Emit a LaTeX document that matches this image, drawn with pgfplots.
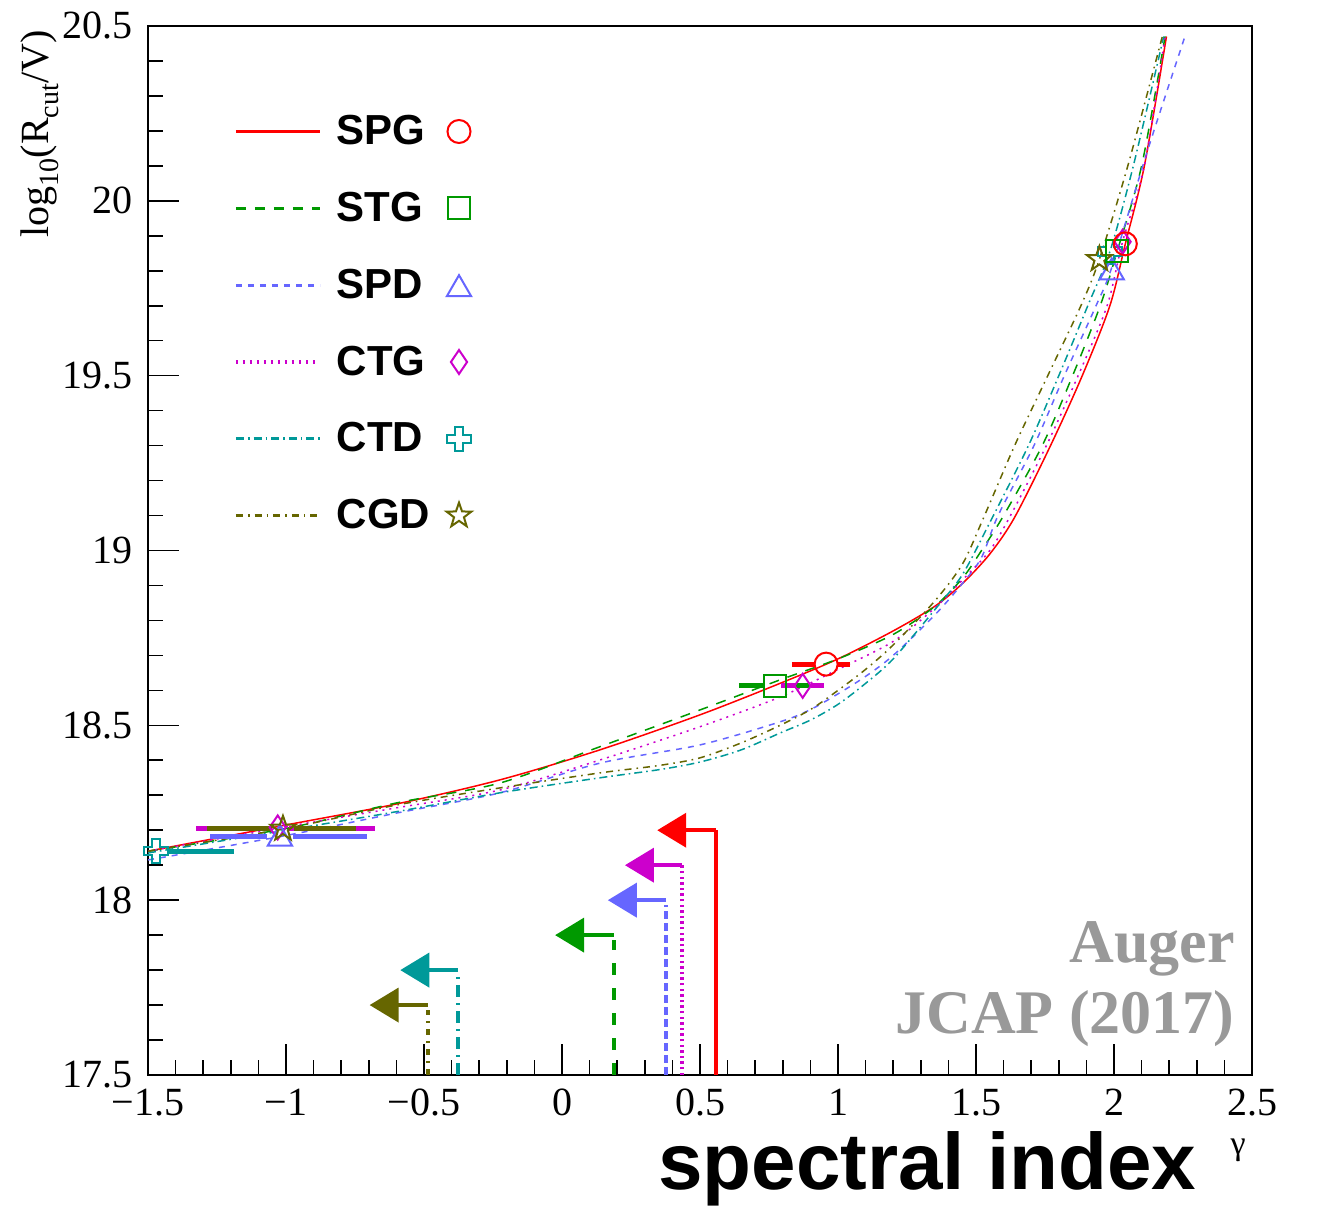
\documentclass[border=0pt]{standalone}
\usepackage{fontspec}
\setmainfont{Liberation Serif}
\newfontfamily\hel{Liberation Sans}
\usepackage{pgfplots}
\pgfplotsset{compat=1.18}
\usetikzlibrary{arrows.meta}

\definecolor{cSPG}{RGB}{255,0,0}
\definecolor{cSTG}{RGB}{0,153,0}
\definecolor{cSPD}{RGB}{102,102,255}
\definecolor{cCTG}{RGB}{204,0,204}
\definecolor{cCTD}{RGB}{0,153,153}
\definecolor{cCGD}{RGB}{102,102,0}

\pgfdeclareplotmark{ocross}{%
  \pgfpathmoveto{\pgfpoint{-0.35\pgfplotmarksize}{\pgfplotmarksize}}%
  \pgfpathlineto{\pgfpoint{0.35\pgfplotmarksize}{\pgfplotmarksize}}%
  \pgfpathlineto{\pgfpoint{0.35\pgfplotmarksize}{0.35\pgfplotmarksize}}%
  \pgfpathlineto{\pgfpoint{\pgfplotmarksize}{0.35\pgfplotmarksize}}%
  \pgfpathlineto{\pgfpoint{\pgfplotmarksize}{-0.35\pgfplotmarksize}}%
  \pgfpathlineto{\pgfpoint{0.35\pgfplotmarksize}{-0.35\pgfplotmarksize}}%
  \pgfpathlineto{\pgfpoint{0.35\pgfplotmarksize}{-\pgfplotmarksize}}%
  \pgfpathlineto{\pgfpoint{-0.35\pgfplotmarksize}{-\pgfplotmarksize}}%
  \pgfpathlineto{\pgfpoint{-0.35\pgfplotmarksize}{-0.35\pgfplotmarksize}}%
  \pgfpathlineto{\pgfpoint{-\pgfplotmarksize}{-0.35\pgfplotmarksize}}%
  \pgfpathlineto{\pgfpoint{-\pgfplotmarksize}{0.35\pgfplotmarksize}}%
  \pgfpathlineto{\pgfpoint{-0.35\pgfplotmarksize}{0.35\pgfplotmarksize}}%
  \pgfpathclose\pgfusepathqstroke}
\pgfdeclareplotmark{ostar}{%
  \pgfpathmoveto{\pgfpointpolar{90}{\pgfplotmarksize}}%
  \pgfpathlineto{\pgfpointpolar{126}{0.4\pgfplotmarksize}}%
  \pgfpathlineto{\pgfpointpolar{162}{\pgfplotmarksize}}%
  \pgfpathlineto{\pgfpointpolar{198}{0.4\pgfplotmarksize}}%
  \pgfpathlineto{\pgfpointpolar{234}{\pgfplotmarksize}}%
  \pgfpathlineto{\pgfpointpolar{270}{0.4\pgfplotmarksize}}%
  \pgfpathlineto{\pgfpointpolar{306}{\pgfplotmarksize}}%
  \pgfpathlineto{\pgfpointpolar{342}{0.4\pgfplotmarksize}}%
  \pgfpathlineto{\pgfpointpolar{18}{\pgfplotmarksize}}%
  \pgfpathlineto{\pgfpointpolar{54}{0.4\pgfplotmarksize}}%
  \pgfpathclose\pgfusepathqstroke}

\tikzset{
  dSTG/.style={dash pattern=on 5pt off 4.5pt},
  dSPD/.style={dash pattern=on 3pt off 3pt},
  dCTG/.style={dash pattern=on 1pt off 2.5pt},
  dCTD/.style={dash pattern=on 4pt off 2pt on 0.8pt off 2pt},
  dCGD/.style={dash pattern=on 3.5pt off 2.5pt on 0.8pt off 2.5pt},
}

\pgfplotstableread{
x y
-1.5 18.14
-1.0 18.215
-0.6 18.275
-0.225 18.344
0.138 18.43
0.5 18.53
0.79 18.62
1.0 18.69
1.2 18.77
1.35 18.84
1.45 18.905
1.55 18.99
1.64 19.095
1.77 19.3
1.885 19.5
1.985 19.7
2.041 19.877
2.11 20.1
2.19 20.47
}\tSPG
\pgfplotstableread{
x y
-1.5 18.14
-1.0 18.205
-0.6 18.278
-0.225 18.335
0.138 18.439
0.5 18.544
0.79 18.63
1.0 18.69
1.2 18.76
1.35 18.84
1.45 18.92
1.52 19.0
1.60 19.1
1.74 19.3
1.85 19.5
1.95 19.7
2.012 19.857
2.10 20.1
2.185 20.47
}\tSTG
\pgfplotstableread{
x y
-1.5 18.115
-1.0 18.185
-0.6 18.249
-0.225 18.307
0.138 18.392
0.5 18.444
0.79 18.51
0.9 18.545
1.0 18.59
1.1 18.64
1.2 18.70
1.35 18.815
1.45 18.905
1.52 18.98
1.58 19.1
1.71 19.3
1.82 19.5
1.935 19.7
1.992 19.81
2.12 20.14
2.257 20.47
}\tSPD
\pgfplotstableread{
x y
-1.5 18.14
-1.0 18.21
-0.6 18.264
-0.225 18.315
0.138 18.401
0.5 18.496
0.79 18.581
1.0 18.66
1.2 18.74
1.35 18.835
1.45 18.915
1.55 19.0
1.625 19.1
1.755 19.3
1.87 19.5
1.975 19.7
2.031 19.883
2.11 20.1
2.185 20.47
}\tCTG
\pgfplotstableread{
x y
-1.5 18.135
-1.0 18.2
-0.6 18.253
-0.225 18.307
0.138 18.35
0.35 18.373
0.5 18.395
0.65 18.43
0.79 18.478
0.9 18.515
1.0 18.56
1.1 18.62
1.2 18.69
1.35 18.83
1.45 18.93
1.55 19.08
1.69 19.3
1.80 19.5
1.905 19.7
1.985 19.855
2.07 20.1
2.18 20.47
}\tCTD
\pgfplotstableread{
x y
-1.5 18.14
-1.0 18.205
-0.6 18.272
-0.225 18.321
0.138 18.364
0.35 18.385
0.5 18.407
0.65 18.45
0.79 18.5
0.9 18.545
1.0 18.6
1.1 18.66
1.2 18.73
1.35 18.855
1.45 18.96
1.52 19.08
1.64 19.3
1.76 19.5
1.88 19.7
1.947 19.833
2.05 20.1
2.175 20.47
}\tCGD

\begin{document}
\begin{tikzpicture}
\begin{axis}[
  name=ax,
  scale only axis, width=552pt, height=524.5pt,
  xmin=-1.5, xmax=2.5, ymin=17.5, ymax=20.5,
  xtick={-1.5,-1,-0.5,0,0.5,1,1.5,2,2.5},
  xticklabels={−1.5,−1,−0.5,0,0.5,1,1.5,2,2.5},
  ytick={17.5,18,18.5,19,19.5,20,20.5},
  yticklabels={17.5,18,18.5,19,19.5,20,20.5},
  minor x tick num=4, minor y tick num=4,
  tick align=inside, xtick pos=left, ytick pos=left,
  major tick length=15.5pt, minor tick length=7.5pt,
  every tick/.style={black, line width=0.8pt},
  axis line style={line width=1.2pt},
  tick label style={font=\fontsize{20}{24}\selectfont},
  xticklabel style={yshift=-3.5pt},
  yticklabel style={inner sep=0pt, xshift=-7.67pt},
  xlabel={spectral index},
  xlabel style={font=\hel\bfseries\fontsize{40}{40}\selectfont, at={(axis description cs:0.950,-0.1087)}, anchor=base east, inner sep=0pt},
  ylabel={log\raisebox{-0.5ex}{\fontsize{14}{14}\selectfont 10}(R\raisebox{-0.5ex}{\fontsize{14}{14}\selectfont cut}/V)},
  ylabel style={font=\fontsize{20}{22}\selectfont, at={(axis description cs:-0.098,0.996)}, anchor=east, inner sep=0pt},
  legend style={draw=none, fill=none, at={(axis description cs:0.0779,0.9190)}, anchor=north west, inner sep=0pt, row sep=18.25pt, font=\hel\bfseries\fontsize{21}{21}\selectfont},
  legend cell align=left,
]
% curves
\addplot[cSPG, line width=0.75pt, smooth, legend image code/.code={\draw[cSPG,line width=1.6pt] (0pt,0pt)--(42pt,0pt); \path (48pt,0pt); \draw[overlay,cSPG,line width=1pt,solid] plot[mark=o,mark size=5.75pt] coordinates {(111.5pt,0pt)};}] table[x=x,y=y] {\tSPG};
\addlegendentry{SPG}
\addplot[cSTG, line width=0.75pt, smooth, dSTG, legend image code/.code={\draw[cSTG,line width=1.6pt,dSTG] (0pt,0pt)--(42pt,0pt); \path (48pt,0pt); \draw[overlay,cSTG,line width=1pt,solid] plot[mark=square,mark size=5.5pt] coordinates {(111.5pt,0pt)};}] table[x=x,y=y] {\tSTG};
\addlegendentry{STG}
\addplot[cSPD, line width=0.75pt, smooth, dSPD, legend image code/.code={\draw[cSPD,line width=1.6pt,dSPD] (0pt,0pt)--(42pt,0pt); \path (48pt,0pt); \draw[overlay,cSPD,line width=1pt,solid] plot[mark=triangle,mark size=7pt] coordinates {(111.5pt,-2pt)};}] table[x=x,y=y] {\tSPD};
\addlegendentry{SPD}
\addplot[cCTG, line width=0.75pt, smooth, dCTG, legend image code/.code={\draw[cCTG,line width=1.6pt,dCTG] (0pt,0pt)--(42pt,0pt); \path (48pt,0pt); \draw[overlay,cCTG,line width=1pt,solid] plot[mark=diamond,mark size=6pt,mark options={xscale=0.9}] coordinates {(111.5pt,0pt)};}] table[x=x,y=y] {\tCTG};
\addlegendentry{CTG}
\addplot[cCTD, line width=0.75pt, smooth, dCTD, legend image code/.code={\draw[cCTD,line width=1.6pt,dCTD] (0pt,0pt)--(42pt,0pt); \path (48pt,0pt); \draw[overlay,cCTD,line width=1pt,solid] plot[mark=ocross,mark size=6pt] coordinates {(111.5pt,0pt)};}] table[x=x,y=y] {\tCTD};
\addlegendentry{CTD}
\addplot[cCGD, line width=0.75pt, smooth, dCGD, legend image code/.code={\draw[cCGD,line width=1.6pt,dCGD] (0pt,0pt)--(42pt,0pt); \path (48pt,0pt); \draw[overlay,cCGD,line width=1pt,solid] plot[mark=ostar,mark size=6.5pt] coordinates {(111.5pt,0pt)};}] table[x=x,y=y] {\tCGD};
\addlegendentry{CGD}

% horizontal error bars
\addplot[forget plot, cCTD, line width=2.4pt] coordinates {(-1.431,18.14) (-1.19,18.14)};
\addplot[forget plot, cCTG, line width=2.4pt] coordinates {(-1.326,18.205) (-1.07,18.205)};
\addplot[forget plot, cCTG, line width=2.4pt] coordinates {(-0.99,18.205) (-0.678,18.205)};
\addplot[forget plot, cSPD, line width=2.4pt] coordinates {(-1.275,18.182) (-1.07,18.182)};
\addplot[forget plot, cSPD, line width=2.4pt] coordinates {(-0.975,18.182) (-0.707,18.182)};
\addplot[forget plot, cCGD, line width=2.4pt] coordinates {(-1.287,18.205) (-1.05,18.205)};
\addplot[forget plot, cCGD, line width=2.4pt] coordinates {(-0.97,18.205) (-0.746,18.205)};
\addplot[forget plot, cSTG, line width=2.4pt] coordinates {(0.641,18.613) (0.732,18.613)};
\addplot[forget plot, cSTG, line width=2.4pt] coordinates {(0.812,18.613) (0.90,18.613)};
\addplot[forget plot, cCTG, line width=2.4pt] coordinates {(0.795,18.613) (0.843,18.613)};
\addplot[forget plot, cCTG, line width=2.4pt] coordinates {(0.901,18.613) (0.949,18.613)};
\addplot[forget plot, cSPG, line width=2.4pt] coordinates {(0.833,18.675) (0.917,18.675)};
\addplot[forget plot, cSPG, line width=2.4pt] coordinates {(0.997,18.675) (1.043,18.675)};

% markers
\addplot[forget plot, only marks, cCTD, line width=1pt, mark=ocross, mark size=6pt] coordinates {(-1.471,18.14) (1.985,19.855)};
\addplot[forget plot, only marks, cCTG, line width=1pt, mark=diamond, mark size=6pt, mark options={xscale=0.9}] coordinates {(-1.03,18.208) (0.872,18.613) (2.031,19.883)};
\addplot[forget plot, only marks, cSPD, line width=1pt, mark=triangle, mark size=7pt] coordinates {(-1.022,18.176) (1.992,19.795)};
\addplot[forget plot, only marks, cCGD, line width=1pt, mark=ostar, mark size=6.5pt] coordinates {(-1.011,18.204) (1.947,19.833)};
\addplot[forget plot, only marks, cSTG, line width=1pt, mark=square, mark size=5.5pt] coordinates {(0.772,18.613) (2.012,19.857)};
\addplot[forget plot, only marks, cSPG, line width=1pt, mark=o, mark size=5.75pt] coordinates {(0.957,18.675) (2.041,19.877)};

% upper-limit arrows
\addplot[forget plot, cSPG, line width=2pt] coordinates {(0.558,17.5) (0.558,18.2)};
\addplot[forget plot, cSPG, line width=2pt, -{Triangle[length=14.5pt,width=17pt]}] coordinates {(0.558,18.2) (0.345,18.2)};
\addplot[forget plot, cCTG, line width=2pt, dash pattern=on 1.2pt off 1.6pt] coordinates {(0.435,17.5) (0.435,18.1)};
\addplot[forget plot, cCTG, line width=2pt, -{Triangle[length=14.5pt,width=17pt]}] coordinates {(0.435,18.1) (0.228,18.1)};
\addplot[forget plot, cSPD, line width=2pt, dash pattern=on 4pt off 2pt] coordinates {(0.377,17.5) (0.377,17.985)};
\addplot[forget plot, cSPD, line width=2pt, -{Triangle[length=14.5pt,width=17pt]}] coordinates {(0.377,18.0) (0.166,18.0)};
\addplot[forget plot, cSTG, line width=2pt, dash pattern=on 6pt off 6.5pt] coordinates {(0.187,17.5) (0.187,17.885)};
\addplot[forget plot, cSTG, line width=2pt, -{Triangle[length=14.5pt,width=17pt]}] coordinates {(0.187,17.9) (-0.025,17.9)};
\addplot[forget plot, cCTD, line width=2pt, dash pattern=on 6pt off 3pt on 1pt off 3pt] coordinates {(-0.376,17.5) (-0.376,17.785)};
\addplot[forget plot, cCTD, line width=2pt, -{Triangle[length=14.5pt,width=17pt]}] coordinates {(-0.376,17.8) (-0.586,17.8)};
\addplot[forget plot, cCGD, line width=2pt, dash pattern=on 3pt off 3pt on 1pt off 3pt] coordinates {(-0.486,17.5) (-0.486,17.685)};
\addplot[forget plot, cCGD, line width=2pt, -{Triangle[length=14.5pt,width=17pt]}] coordinates {(-0.486,17.7) (-0.697,17.7)};

\node[anchor=base east, text=black!40, font=\bfseries\fontsize{31}{31}\selectfont, inner sep=0pt] at (axis description cs:0.9846,0.1077) {Auger};
\node[anchor=base east, text=black!40, font=\bfseries\fontsize{31}{31}\selectfont, inner sep=0pt] at (axis description cs:0.9846,0.040) {JCAP (2017)};
\end{axis}
\node[font=\fontsize{17}{17}\selectfont, inner sep=0pt] at ([shift={(545pt,-37.5pt)}]ax.south west) {γ};
\path ([shift={(-74pt,-68pt)}]ax.south west) rectangle ([shift={(41pt,13pt)}]ax.north east);
\end{tikzpicture}
\end{document}
